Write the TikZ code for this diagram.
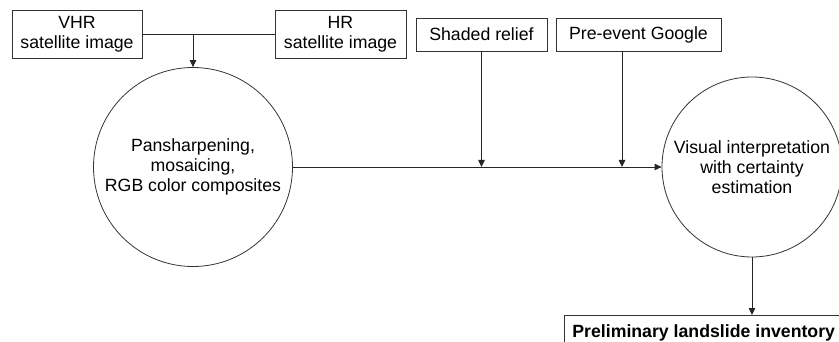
\documentclass[tikz,border=0pt]{standalone}
\usepackage{fontspec}
\setmainfont{Liberation Sans}
\usetikzlibrary{arrows.meta}
\begin{document}
\begin{tikzpicture}[x=1pt,y=-1pt,
  every node/.style={font=\fontsize{17.7}{20}\selectfont, align=center},
  inbox/.style={draw=black!80, line width=0.8pt, inner sep=0pt},
  procircle/.style={draw=black!80, line width=0.8pt, circle, inner sep=0pt},
  conn/.style={draw=black!85, line width=0.8pt},
  arr/.style={conn, -{Triangle[length=7pt,width=6.5pt]}}]
\clip (0,0) rectangle (839,342);
\node[inbox, minimum width=130pt, minimum height=48pt] (vhr) at (77,34) {VHR\\satellite image};
\node[inbox, minimum width=131pt, minimum height=48pt] (hr) at (340.5,34) {HR\\satellite image};
\node[inbox, minimum width=131pt, minimum height=33pt] (shaded) at (481.5,34.5) {Shaded relief};
\node[inbox, minimum width=165pt, minimum height=33pt] (google) at (638.5,34.5) {Pre-event Google};
\node[procircle, minimum size=199pt] (pan) at (193,167) {Pansharpening,\\mosaicing,\\RGB color composites};
\node[procircle, minimum size=180pt] (vis) at (752,167) {Visual interpretation\\with certainty\\estimation};
\node[draw=black!80, line width=0.8pt, anchor=north west, inner xsep=8pt, inner ysep=9pt,
  text height=13pt, text depth=4pt, align=left, font=\fontsize{17.7}{20}\selectfont\bfseries] (prelim) at (564,315) {Preliminary landslide inventory};
\coordinate (gdrop) at ([xshift=-16.5pt]google.south);
\draw[conn] (vhr.east) -- (hr.west);
\draw[arr] (vhr.east -| pan.north) -- (pan.north);
\draw[arr] (pan.east) -- (vis.west);
\draw[arr] (shaded.south) -- (shaded.south |- pan.east);
\draw[arr] (gdrop) -- (gdrop |- pan.east);
\draw[arr] (vis.south) -- (vis.south |- prelim.north);
\end{tikzpicture}
\end{document}
